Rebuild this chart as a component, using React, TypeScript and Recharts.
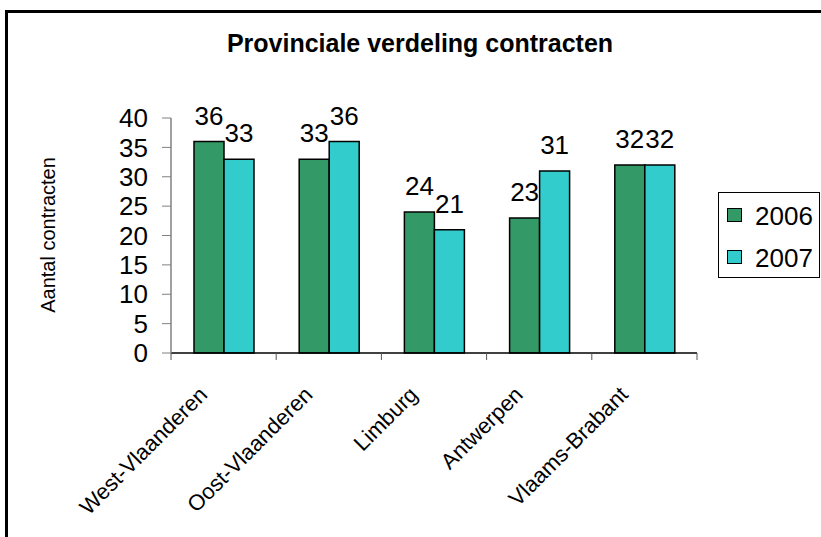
import { BarChart, Bar, XAxis, YAxis, LabelList } from 'recharts'

const provinces = ['West-Vlaanderen', 'Oost-Vlaanderen', 'Limburg', 'Antwerpen', 'Vlaams-Brabant']
const contracts2006 = [36, 33, 24, 23, 32]
const contracts2007 = [33, 36, 21, 31, 32]
const yTicks = [0, 5, 10, 15, 20, 25, 30, 35, 40]
const seriesNames = ['2006', '2007']
const seriesColors = ['#339966', '#33CCCC']

const data = provinces.map((name, i) => ({
  name,
  y2006: contracts2006[i],
  y2007: contracts2007[i],
}))

const FONT = '"Liberation Sans", Arial, sans-serif'
const PLOT_LEFT = 171
const PLOT_RIGHT = 697
const STEP = (PLOT_RIGHT - PLOT_LEFT) / provinces.length

const XTick = ({ x, y, payload, index }: any) => {
  const axisY = y - 7
  return (
    <g>
      <line x1={x - STEP / 2} x2={x - STEP / 2} y1={axisY} y2={axisY + 7} stroke="#555" />
      {index === provinces.length - 1 && (
        <line x1={x + STEP / 2} x2={x + STEP / 2} y1={axisY} y2={axisY + 7} stroke="#555" />
      )}
      <text
        x={x - 15}
        y={y + 36}
        transform={`rotate(-45 ${x - 15} ${y + 36})`}
        textAnchor="end"
        fontFamily={FONT}
        fontSize={22}
        fill="#000"
      >
        {payload.value}
      </text>
    </g>
  )
}

export default function App() {
  return (
    <div style={{ position: 'absolute', left: 0, top: 0, width: 821, height: 537, background: '#fff', overflow: 'hidden' }}>
      <div
        style={{
          position: 'absolute',
          left: 5,
          top: 10,
          width: 840,
          height: 560,
          borderLeft: '3px solid #000',
          borderTop: '3px solid #000',
        }}
      />
      <div
        style={{
          position: 'absolute',
          left: 120,
          width: 600,
          top: 31,
          textAlign: 'center',
          fontFamily: FONT,
          fontWeight: 'bold',
          fontSize: 25,
          lineHeight: '25px',
        }}
      >
        Provinciale verdeling contracten
      </div>

      <div style={{ position: 'absolute', left: 0, top: 0 }}>
        <BarChart
          width={821}
          height={537}
          data={data}
          margin={{ top: 118, right: 821 - PLOT_RIGHT, bottom: 84, left: 0 }}
          barGap={0}
          barSize={30}
        >
          <XAxis
            dataKey="name"
            height={100}
            axisLine={{ stroke: '#000', strokeWidth: 1.5 }}
            tickLine={false}
            tickSize={7}
            tickMargin={0}
            interval={0}
            tick={<XTick />}
          />
          <YAxis
            width={PLOT_LEFT}
            domain={[0, 40]}
            ticks={yTicks}
            interval={0}
            axisLine={{ stroke: '#808080', strokeWidth: 1.5 }}
            tickLine={{ stroke: '#808080' }}
            tickSize={9}
            tickMargin={14}
            tick={{ fontFamily: FONT, fontSize: 26, fill: '#000' }}
            label={{
              content: () => (
                <text
                  x={55}
                  y={235}
                  transform="rotate(-90 55 235)"
                  textAnchor="middle"
                  fontFamily={FONT}
                  fontSize={20}
                  fill="#000"
                >
                  Aantal contracten
                </text>
              ),
            }}
          />
          <Bar dataKey="y2006" name={seriesNames[0]} fill={seriesColors[0]} stroke="#000" strokeWidth={1.5} isAnimationActive={false}>
            <LabelList dataKey="y2006" position="top" offset={17} fontFamily={FONT} fontSize={26} fill="#000" />
          </Bar>
          <Bar dataKey="y2007" name={seriesNames[1]} fill={seriesColors[1]} stroke="#000" strokeWidth={1.5} isAnimationActive={false}>
            <LabelList dataKey="y2007" position="top" offset={17} fontFamily={FONT} fontSize={26} fill="#000" />
          </Bar>
        </BarChart>
      </div>

      <div
        style={{
          position: 'absolute',
          left: 718,
          top: 192,
          width: 100,
          height: 84,
          border: '1px solid #000',
          fontFamily: FONT,
          fontSize: 26,
          lineHeight: '26px',
        }}
      >
        {seriesNames.map((s, i) => (
          <div key={s}>
            <div
              style={{
                position: 'absolute',
                left: 8,
                top: 15 + i * 42,
                width: 13,
                height: 12,
                background: seriesColors[i],
                border: '1.5px solid #000',
              }}
            />
            <div style={{ position: 'absolute', left: 36, top: 10 + i * 42 }}>{s}</div>
          </div>
        ))}
      </div>
    </div>
  )
}
